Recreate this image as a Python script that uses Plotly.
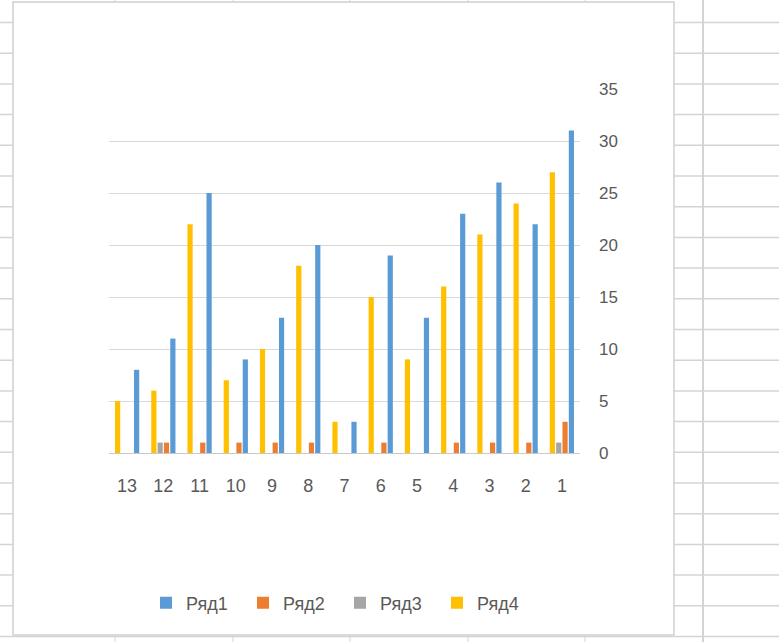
import plotly.graph_objects as go

# Data
categories = ["1", "2", "3", "4", "5", "6", "7", "8", "9", "10", "11", "12", "13"]
series_names = ["Ряд1", "Ряд2", "Ряд3", "Ряд4"]
row1 = [31, 22, 26, 23, 13, 19, 3, 20, 13, 9, 25, 11, 8]
row2 = [3, 1, 1, 1, 0, 1, 0, 1, 1, 1, 1, 1, 0]
row3 = [1, 0, 0, 0, 0, 0, 0, 0, 0, 0, 0, 1, 0]
row4 = [27, 24, 21, 16, 9, 15, 3, 18, 10, 7, 22, 6, 5]
y_ticks = [0, 5, 10, 15, 20, 25, 30, 35]

colors = ["#5b9bd5", "#ed7d31", "#a5a5a5", "#ffc000"]
text_color = "#595959"

W, H = 779, 642
PL, PR, PT, PB = 109, 580, 89, 453  # plot area in pixels


def px(x):
    return (x - PL) / (PR - PL)


def py(y):
    return (PB - y) / (PB - PT)


fig = go.Figure()
for name, vals, col in zip(series_names, [row1, row2, row3, row4], colors):
    fig.add_trace(go.Bar(x=categories, y=vals, name=name, marker_color=col,
                         marker_line_width=0))

# Spreadsheet grid behind the chart, then the chart area box
shapes = []
grid_col = "#d4d4d4"
for xv in [115, 233, 350, 468, 585]:
    shapes.append(dict(type="line", xref="paper", yref="paper", layer="below",
                       x0=px(xv), x1=px(xv), y0=py(0), y1=py(H),
                       line=dict(color=grid_col, width=1)))
shapes.append(dict(type="line", xref="paper", yref="paper", layer="below",
                   x0=px(703), x1=px(703), y0=py(0), y1=py(H),
                   line=dict(color=grid_col, width=2)))
for k in range(21):
    yv = 22.5 + 30.7 * k
    shapes.append(dict(type="line", xref="paper", yref="paper", layer="below",
                       x0=px(0), x1=px(W), y0=py(yv), y1=py(yv),
                       line=dict(color=grid_col, width=1.5)))
shapes.append(dict(type="rect", xref="paper", yref="paper", layer="below",
                   x0=px(13), x1=px(674), y0=py(2), y1=py(635),
                   fillcolor="white", line=dict(color="#d0d0d0", width=1.5)))

fig.update_layout(
    width=W, height=H,
    margin=dict(l=PL, r=W - PR, t=PT, b=H - PB, pad=0, autoexpand=False),
    paper_bgcolor="white",
    plot_bgcolor="rgba(0,0,0,0)",
    barmode="group",
    bargap=0.3,
    bargroupgap=0.18,
    font=dict(family="Liberation Sans, Arial, sans-serif", size=17, color=text_color),
    shapes=shapes,
    showlegend=True,
    legend=dict(orientation="h", x=px(146), xanchor="left", y=py(603),
                yanchor="middle", font=dict(size=18, color=text_color),
                entrywidth=52, entrywidthmode="pixels",
                itemwidth=30,
                bgcolor="rgba(0,0,0,0)", traceorder="normal"),
    xaxis=dict(type="category", autorange="reversed", showgrid=False,
               showline=False, zeroline=False, ticks="",
               ticklabelstandoff=20, tickfont=dict(size=18, color=text_color)),
    yaxis=dict(range=[0, 35], tickvals=y_ticks, side="right", showgrid=True,
               gridcolor="#d9d9d9", gridwidth=1, zeroline=True,
               zerolinecolor="#c9c9c9", zerolinewidth=1, showline=False,
               ticks="", ticklabelstandoff=18,
               tickfont=dict(size=17, color=text_color)),
)

fig.write_html("out.html")
